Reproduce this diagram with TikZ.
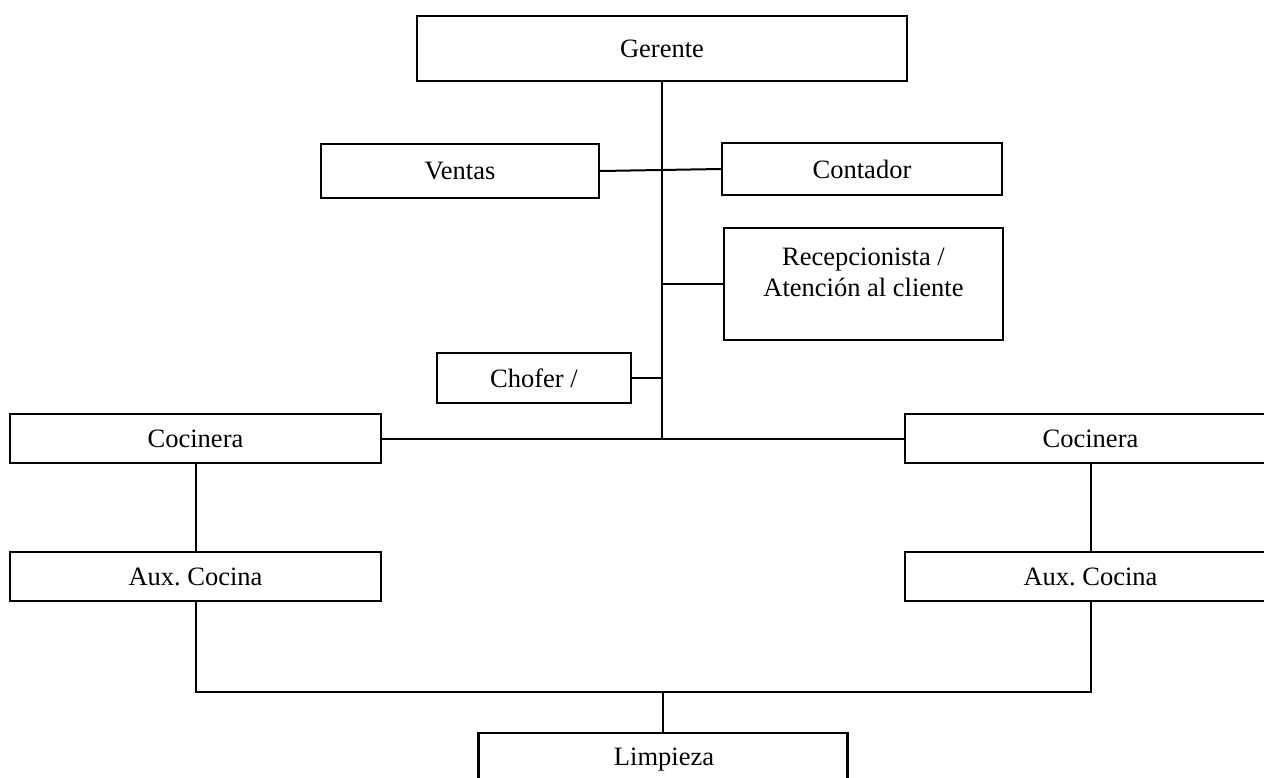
\documentclass[tikz,border=0pt]{standalone}
\usepackage{fontspec}
\setmainfont{Liberation Serif}
\frenchspacing
\begin{document}
\begin{tikzpicture}[x=1pt,y=-1pt,
  box/.style={draw, line width=2.3pt, inner sep=0pt, font=\fontsize{26.5}{31}\selectfont, align=center},
  txt/.style={inner sep=0pt, font=\fontsize{26.5}{31}\selectfont, align=center},
  link/.style={line width=2pt}]
\clip (0,0) rectangle (1264,777);
\fill[white] (0,0) rectangle (1264,777);

% boxes
\node[box, minimum width=490pt, minimum height=65pt] (ger) at (662,48.5) {Gerente};
\node[box, minimum width=278pt, minimum height=54pt] (ven) at (460,171) {Ventas};
\node[box, minimum width=280pt, minimum height=52pt] (con) at (862,169) {Contador};
\node[box, minimum width=279pt, minimum height=112pt] (rec) at (863.5,284) {};
\node[txt] (rectxt) at (863.5,272.5) {Recepcionista /\\Atención al cliente};
\node[box, minimum width=194pt, minimum height=50pt] (cho) at (534,378) {Chofer /};
\node[box, minimum width=371pt, minimum height=49pt] (coL) at (195.5,438.5) {Cocinera};
\node[box, minimum width=371pt, minimum height=49pt] (coR) at (1090.5,438.5) {Cocinera};
\node[box, minimum width=371pt, minimum height=49pt] (auxL) at (195.5,576.5) {Aux.\ Cocina};
\node[box, minimum width=371pt, minimum height=49pt] (auxR) at (1090.5,576.5) {Aux.\ Cocina};
\node[box, minimum width=369pt, minimum height=60pt] (lim) at (663,763) {};
\node[txt] (limtxt) at (664,760) {Limpieza};

% connectors
\coordinate (hub) at (662,438);
\coordinate (bus) at (663,692);
\draw[link] (ger.south) -- (hub);
\draw[link] (ven.east) -- (con.west);
\draw[link] (rec.west) -- (rec.west -| hub);
\draw[link] (cho.east) -- (cho.east -| hub);
\draw[link] (coL.east) -- (coR.west);
\draw[link] (coL.south) -- (auxL.north);
\draw[link] (coR.south) -- (auxR.north);
\draw[link] (auxL.south) |- (bus) -| (auxR.south);
\draw[link] (bus) -- (lim.north);
\end{tikzpicture}
\end{document}
